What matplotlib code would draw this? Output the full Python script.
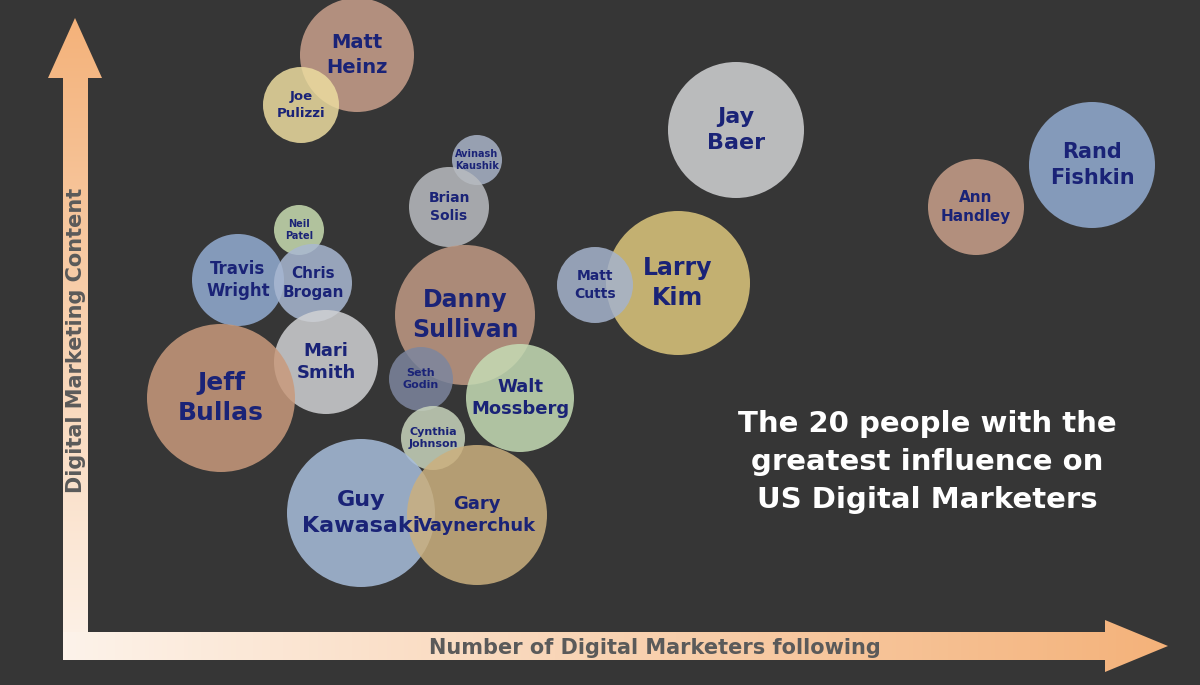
import matplotlib
matplotlib.use("Agg")
import matplotlib.pyplot as plt
import numpy as np
from matplotlib.patches import Circle, Polygon

names = ["Matt\nHeinz", "Joe\nPulizzi", "Avinash\nKaushik", "Brian\nSolis", "Jay\nBaer",
         "Rand\nFishkin", "Ann\nHandley", "Neil\nPatel", "Travis\nWright", "Chris\nBrogan",
         "Danny\nSullivan", "Larry\nKim", "Matt\nCutts", "Mari\nSmith", "Jeff\nBullas",
         "Walt\nMossberg", "Seth\nGodin", "Cynthia\nJohnson", "Guy\nKawasaki", "Gary\nVaynerchuk"]
x = [357, 301, 477, 449, 736, 1092, 976, 299, 238, 313, 465, 678, 595, 326, 221, 520, 421, 433, 361, 477]
y = [55, 105, 160, 207, 130, 165, 207, 230, 280, 283, 315, 283, 285, 362, 398, 398, 379, 438, 513, 515]
r = [57, 38, 25, 40, 68, 63, 48, 25, 46, 39, 70, 72, 38, 52, 74, 54, 32, 32, 74, 70]
colors = ["#c9a08c", "#ecdca0", "#a9b3c8", "#b9bcc0", "#d2d3d5", "#93acd2", "#c9a08a", "#c8dcb0",
          "#93acd2", "#a9b8d2", "#c09a84", "#ddc67c", "#a5b3cc", "#d0d1d3", "#c99a7c", "#c5dcb5",
          "#7d869e", "#c8d3bc", "#a8bedc", "#cbb07e"]
fsizes = [14, 9.5, 7, 10, 16, 15, 11, 7, 12, 11, 17, 17, 10, 13, 18, 13, 8, 8, 16, 13]

fig = plt.figure(figsize=(12, 6.85), dpi=100)
fig.patch.set_facecolor("#363636")
ax = fig.add_axes([0, 0, 1, 1])
ax.set_xlim(0, 1200)
ax.set_ylim(685, 0)
ax.axis("off")
ax.set_facecolor("#363636")

# arrows with gradient
def grad_poly(pts, horizontal):
    poly = Polygon(pts, closed=True, facecolor="none", edgecolor="none")
    ax.add_patch(poly)
    if horizontal:
        g = np.linspace(0, 1, 256)[None, :]
    else:
        g = np.linspace(1, 0, 256)[:, None]
    from matplotlib.colors import LinearSegmentedColormap
    cm = LinearSegmentedColormap.from_list("p", ["#fdf3ea", "#f4b27a"])
    xs = [p[0] for p in pts]; ys = [p[1] for p in pts]
    im = ax.imshow(g, cmap=cm, extent=[min(xs), max(xs), max(ys), min(ys)] if not horizontal else [min(xs), max(xs), max(ys), min(ys)],
                   aspect="auto", zorder=1)
    im.set_clip_path(poly)

vert = [(63, 660), (63, 78), (48, 78), (75, 18), (102, 78), (88, 78), (88, 660)]
horiz = [(63, 660), (63, 632), (1105, 632), (1105, 620), (1168, 646), (1105, 672), (1105, 660)]
grad_poly(vert, False)
grad_poly(horiz, True)
ax.set_xlim(0, 1200); ax.set_ylim(685, 0)

for n, xi, yi, ri, c, fs in zip(names, x, y, r, colors, fsizes):
    ax.add_patch(Circle((xi, yi), ri, facecolor=c, edgecolor="none", alpha=0.85, zorder=2))
    ax.text(xi, yi, n, ha="center", va="center", color="#1a2377", fontsize=fs,
            fontweight="bold", linespacing=1.35, zorder=3)

ax.text(76, 340, "Digital Marketing Content", rotation=90, ha="center", va="center",
        color="#5a5a5a", fontsize=15, fontweight="bold", zorder=4)
ax.text(655, 648, "Number of Digital Marketers following", ha="center", va="center",
        color="#5a5a5a", fontsize=15, fontweight="bold", zorder=4)
ax.text(927, 462, "The 20 people with the\ngreatest influence on\nUS Digital Marketers",
        ha="center", va="center", color="white", fontsize=21, fontweight="bold", linespacing=1.45)

fig.savefig("out.png", dpi=100, facecolor=fig.get_facecolor())
